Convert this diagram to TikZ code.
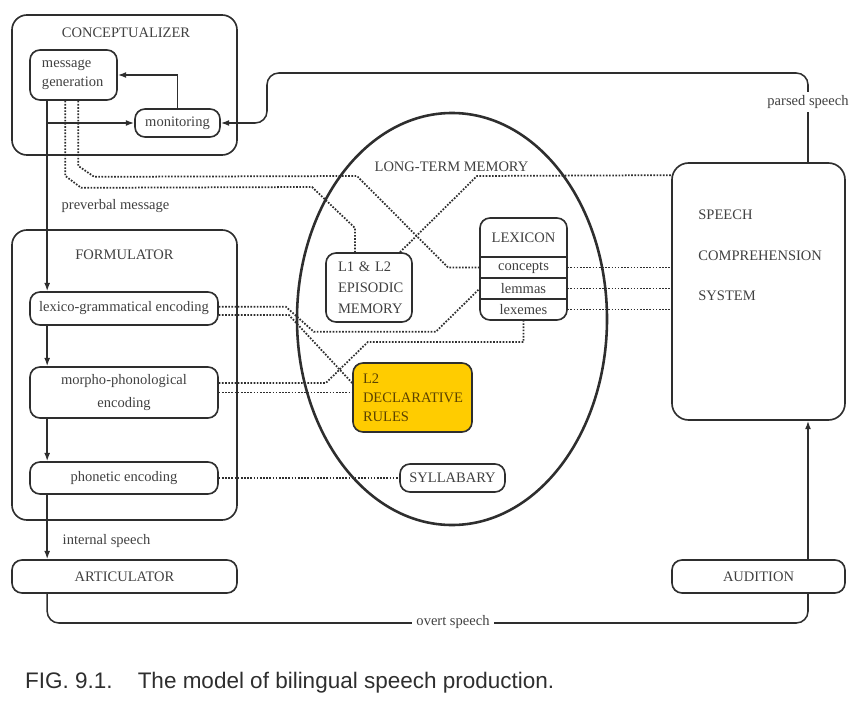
\documentclass[tikz,border=0pt]{standalone}
\usepackage{fontspec}
\setmainfont{Liberation Serif}
\newfontfamily\capfont{Liberation Sans}
\usetikzlibrary{arrows.meta,shapes.geometric}
\definecolor{ink}{HTML}{2E2E2E}
\definecolor{txt}{HTML}{404040}
\definecolor{rulefill}{HTML}{FFCC00}
\definecolor{ruletxt}{HTML}{5C4300}
\newcommand\diagfont{\fontsize{12.4}{16}\selectfont}

\begin{document}
\begin{tikzpicture}[x=0.03cm, y=-0.03cm,
    box/.style={draw=ink, line width=1.4pt, rounded corners=0.3cm, text=txt, inner sep=0pt, font=\diagfont},
    lbl/.style={text=txt, inner sep=1pt, font=\diagfont},
    row/.style={minimum width=2.61cm, minimum height=0.63cm, inner sep=0pt, text=txt, font=\diagfont},
    flow/.style={draw=ink, line width=1.3pt},
    dotline/.style={draw=ink, line width=1.5pt, dash pattern=on 1.4pt off 1.3pt},
    >={Latex[length=7pt,width=5pt]}]
  \useasboundingbox (0,0) rectangle (860,701);
  \node[box, rounded corners=0.45cm, minimum width=6.75cm, minimum height=4.2cm] (concbox) at (124.5,85) {};
  \node[lbl] (conctitle) at (126,33) {CONCEPTUALIZER};
  \node[box, minimum width=2.61cm, minimum height=1.5cm, inner xsep=0.36cm, text width=1.89cm, align=left] (msg) at (73.5,75) {message\\generation};
  \node[box, minimum width=2.55cm, minimum height=0.84cm] (mon) at (177.5,123) {monitoring};
  \node[box, rounded corners=0.45cm, minimum width=6.75cm, minimum height=8.7cm] (formbox) at (124.5,375) {};
  \node[lbl] (formtitle) at (124.5,255) {FORMULATOR};
  \node[box, minimum width=5.64cm, minimum height=0.99cm] (lexgram) at (124,308.5) {lexico-grammatical encoding};
  \node[box, minimum width=5.64cm, minimum height=1.53cm, align=center] (morph) at (124,392.5) {morpho-phonological\\[3.5pt]encoding};
  \node[box, minimum width=5.64cm, minimum height=0.96cm] (phon) at (124,478) {phonetic encoding};
  \node[box, minimum width=6.75cm, minimum height=0.99cm] (artic) at (124.5,576.5) {ARTICULATOR};
  \node[draw=ink, line width=2.2pt, ellipse, inner sep=0pt, minimum width=9.3cm, minimum height=12.36cm] (ltm) at (452,319) {};
  \node[lbl] (ltmtitle) at (451.5,167) {LONG-TERM MEMORY};
  \node[box, minimum width=2.58cm, minimum height=2.07cm, inner xsep=0.36cm, text width=1.86cm, align=left,
        font={\fontsize{12.4}{17.9}\selectfont}] (episodic) at (369,287.5) {L1 \& L2\\EPISODIC\\MEMORY};
  \node[box, minimum width=2.61cm, minimum height=3.06cm] (lexicon) at (523.5,269) {};
  \node[lbl] (lextitle) at (523.5,238) {LEXICON};
  \node[row] (concepts) at (523.5,267.5) {concepts};
  \node[row] (lemmas) at (523.5,288.5) {lemmas};
  \node[row] (lexemes) at (523.5,309.5) {lexemes};
  \node[box, fill=rulefill, text=ruletxt, minimum width=3.57cm, minimum height=2.07cm, inner xsep=0.3cm, text width=2.97cm, align=left,
        font={\fontsize{12.4}{16.2}\selectfont}] (rules) at (412.5,397.5) {L2\\DECLARATIVE\\RULES};
  \node[box, minimum width=3.15cm, minimum height=0.84cm] (syll) at (452.5,478) {SYLLABARY};
  \node[box, rounded corners=0.5cm, minimum width=5.19cm, minimum height=7.71cm] (scs) at (758.5,291.5) {};
  \node[lbl, anchor=west, align=left, font={\fontsize{12.4}{34.4}\selectfont}] (scstext) at (697,255.5) {SPEECH\\COMPREHENSION\\SYSTEM};
  \node[box, minimum width=5.19cm, minimum height=0.99cm] (aud) at (758.5,576.5) {AUDITION};
  \node[lbl] (prevlbl) at (115.5,206) {preverbal message};
  \node[lbl] (intlbl) at (106.5,541) {internal speech};
  \coordinate (spine) at ([xshift=0.54cm]msg.south west);
  \coordinate (hear) at (808,623);
  \coordinate (loop) at (267,73);
  \begin{scope}[flow]
    \draw (concepts.north west) to (concepts.north east);
    \draw (lemmas.north west) to (lemmas.north east);
    \draw (lexemes.north west) to (lexemes.north east);
    \draw[->] (spine) to (spine |- lexgram.north);
    \draw[->] (spine |- mon.west) to (mon.west);
    \draw[->] (mon.north) |- (msg.east);
    \draw[->] (spine |- lexgram.south) to (spine |- morph.north);
    \draw[->] (spine |- morph.south) to (spine |- phon.north);
    \draw[->] (spine |- phon.south) to (spine |- artic.north);
    \draw[rounded corners=0.35cm] (spine |- artic.south) |- (hear) -- (hear |- aud.south);
    \draw[->] (hear |- aud.north) to (hear |- scs.south);
    \draw[->, rounded corners=0.35cm] (hear |- scs.north) |- (loop) |- (mon.east);
  \end{scope}
  \node[lbl, fill=white, inner xsep=4pt] (overtlbl) at (453,622) {overt speech};
  \node[lbl, fill=white, inner ysep=3pt] (parsedlbl) at (808,102) {parsed speech};
  \begin{scope}[dotline]
    \draw ([xshift=1.47cm]msg.south west) -- ++(0,65) -- ++(16,11) -- (357,176) -- (448,267.5) -- (concepts.west);
    \draw ([xshift=1.08cm]msg.south west) -- ++(0,75) -- ++(16,12) -- (312,187) -- (355,228) -- ([xshift=-0.42cm]episodic.north);
    \draw ([xshift=0.93cm]episodic.north) -- (477,176) -- ([yshift=-0.39cm]scs.north west);
    \draw (concepts.east) to (concepts.east -| scs.west);
    \draw (lemmas.east) to (lemmas.east -| scs.west);
    \draw (lexemes.east) to (lexemes.east -| scs.west);
    \draw ([yshift=1.5pt]lexgram.east) -- ++(67,0) -- ++(28,25) -- ++(122,0) -- (lemmas.west);
    \draw ([yshift=-5.5pt]lexgram.east) -- ++(70,0) -- ([yshift=0.435cm]rules.west);
    \draw ([yshift=0.285cm]morph.east) -- ++(107,0) -- ++(42,-41) -| (lexicon.south);
    \draw (morph.east) to (morph.east -| rules.west);
    \draw (phon.east) to (syll.west);
  \end{scope}
  \node[anchor=base west, inner sep=0pt, text=ink, font={\capfont\fontsize{19.2}{23}\selectfont}] (caption) at (25,688)
    {FIG.~9.1.\hspace{0.75cm}The model of bilingual speech production.};
\end{tikzpicture}
\end{document}
